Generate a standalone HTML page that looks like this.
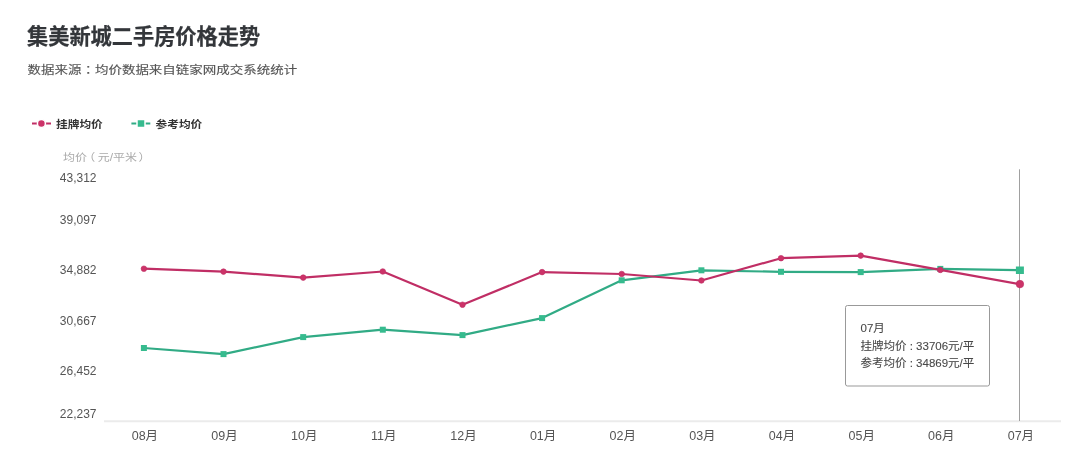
<!DOCTYPE html>
<html><head><meta charset="utf-8"><style>
html,body{margin:0;padding:0;background:#fff;width:1080px;height:467px;overflow:hidden;}
svg{position:absolute;left:0;top:0;}
.cjk{font-family:"Liberation Sans","Noto Sans CJK SC",sans-serif;}
.tc{font-family:"Noto Sans CJK TC",sans-serif;}
</style></head><body>
<svg width="1080" height="467" viewBox="0 0 1080 467" class="cjk">
<text x="27" y="44" font-size="21.2" font-weight="700" fill="#33363a" stroke="#33363a" stroke-width="0.25">集美新城二手房价格走势</text>
<text x="27.5" y="74.7" font-size="13.5" fill="#555" stroke="#555" stroke-width="0.15" transform="translate(0,69) scale(1,0.84) translate(0,-69)">数据来源<tspan class="tc">：</tspan>均价数据来自链家网成交系统统计</text>
<g>
<line x1="32" y1="123.5" x2="51" y2="123.5" stroke="#c02e65" stroke-width="2"/>
<circle cx="41.4" cy="123.5" r="4" fill="#cc3368" stroke="#fff" stroke-width="1.5"/>
<text x="56" y="128" font-size="11.7" font-weight="bold" fill="#333" transform="translate(0,128) scale(1,0.9) translate(0,-128)">挂牌均价</text>
<line x1="131.4" y1="123.5" x2="150.3" y2="123.5" stroke="#31ab85" stroke-width="2"/>
<rect x="137" y="119.5" width="8" height="8" fill="#36bb8e" stroke="#fff" stroke-width="1.5"/>
<text x="155.5" y="128" font-size="11.7" font-weight="bold" fill="#333" transform="translate(0,128) scale(1,0.9) translate(0,-128)">参考均价</text>
</g>
<text x="63" y="161.3" font-size="12" fill="#aaa" transform="translate(0,156.5) scale(1,0.86) translate(0,-156.5)">均价<tspan dx="-3.8">（</tspan><tspan dx="2.5">元/平米</tspan><tspan dx="1.5">）</tspan></text>
<g font-size="12" fill="#555" text-anchor="end"><text x="96.5" y="182">43,312</text><text x="96.5" y="224">39,097</text><text x="96.5" y="274">34,882</text><text x="96.5" y="324.5">30,667</text><text x="96.5" y="374.5">26,452</text><text x="96.5" y="418">22,237</text></g>
<line x1="104" y1="421.2" x2="1061" y2="421.2" stroke="#ebebeb" stroke-width="2"/>
<line x1="1019.5" y1="169.3" x2="1019.5" y2="421" stroke="#a0a0a0" stroke-width="1"/>
<g font-size="12.5" fill="#555" text-anchor="middle"><text x="144.9" y="440">08月</text><text x="224.5" y="440">09月</text><text x="304.2" y="440">10月</text><text x="383.8" y="440">11月</text><text x="463.5" y="440">12月</text><text x="543.1" y="440">01月</text><text x="622.7" y="440">02月</text><text x="702.4" y="440">03月</text><text x="782.0" y="440">04月</text><text x="861.7" y="440">05月</text><text x="941.3" y="440">06月</text><text x="1020.9" y="440">07月</text></g>
<polyline points="143.9,348.0 223.5,354.1 303.2,337.1 382.8,329.7 462.5,335.1 542.1,318.1 621.7,280.3 701.4,270.3 781.0,271.8 860.7,272.1 940.3,268.9 1019.9,270.2" fill="none" stroke="#31ab85" stroke-width="2.2" stroke-linejoin="round"/>
<g fill="#36bb8e"><rect x="140.9" y="345.0" width="6" height="6"/><rect x="220.5" y="351.1" width="6" height="6"/><rect x="300.2" y="334.1" width="6" height="6"/><rect x="379.8" y="326.7" width="6" height="6"/><rect x="459.5" y="332.1" width="6" height="6"/><rect x="539.1" y="315.1" width="6" height="6"/><rect x="618.7" y="277.3" width="6" height="6"/><rect x="698.4" y="267.3" width="6" height="6"/><rect x="778.0" y="268.8" width="6" height="6"/><rect x="857.7" y="269.1" width="6" height="6"/><rect x="937.3" y="265.9" width="6" height="6"/><rect x="1015.9" y="266.5" width="8" height="7.5"/></g>
<polyline points="143.9,268.7 223.5,271.6 303.2,277.6 382.8,271.5 462.5,304.7 542.1,272.1 621.7,274.0 701.4,280.5 781.0,258.2 860.7,255.6 940.3,269.9 1019.9,284.1" fill="none" stroke="#c02e65" stroke-width="2.2" stroke-linejoin="round"/>
<g fill="#cc3368" stroke="#c02e65" stroke-width="0.6"><circle cx="143.9" cy="268.7" r="2.8"/><circle cx="223.5" cy="271.6" r="2.8"/><circle cx="303.2" cy="277.6" r="2.8"/><circle cx="382.8" cy="271.5" r="2.8"/><circle cx="462.5" cy="304.7" r="2.8"/><circle cx="542.1" cy="272.1" r="2.8"/><circle cx="621.7" cy="274.0" r="2.8"/><circle cx="701.4" cy="280.5" r="2.8"/><circle cx="781.0" cy="258.2" r="2.8"/><circle cx="860.7" cy="255.6" r="2.8"/><circle cx="940.3" cy="269.9" r="2.8"/><circle cx="1019.9" cy="284.1" r="3.8"/></g>
<rect x="845.5" y="305.5" width="144" height="80.5" rx="2" fill="#fff" stroke="#999" stroke-width="1"/>
<g font-size="11.5" fill="#484848" stroke="#484848" stroke-width="0.1">
<text x="860.5" y="331.7">07月</text>
<text x="860.5" y="350">挂牌均价 : 33706元/平</text>
<text x="860.5" y="366.8">参考均价 : 34869元/平</text>
</g>
</svg>
</body></html>
